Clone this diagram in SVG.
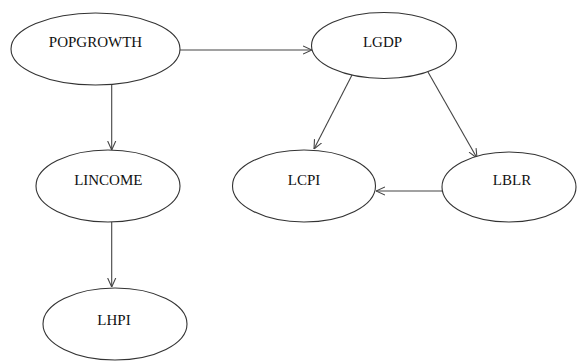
<svg xmlns="http://www.w3.org/2000/svg" width="577" height="363" viewBox="0 0 577 363">
<style>
.node ellipse{fill:#fff;stroke:#333;stroke-width:1.1}
.node text{font-family:"Liberation Serif","Times New Roman",serif;font-size:15px;fill:#111;text-anchor:middle}
.edge{stroke:#444;stroke-width:1.1;fill:none;marker-end:url(#arr)}
</style>
<defs>
<marker id="arr" viewBox="0 0 10 10" refX="10" refY="5" markerWidth="9" markerHeight="10" markerUnits="userSpaceOnUse" orient="auto">
<path d="M0,0.5 L10,5 L0,9.5" fill="none" stroke="#444" stroke-width="1.2"/>
</marker>
</defs>
<rect width="577" height="363" fill="#fff"/>
<g id="connectors">
<line class="edge" x1="180" y1="50" x2="312" y2="50"/>
<line class="edge" x1="111.7" y1="85" x2="111.7" y2="150"/>
<line class="edge" x1="111.7" y1="222" x2="111.7" y2="287"/>
<line class="edge" x1="352" y1="75" x2="314" y2="149"/>
<line class="edge" x1="428" y1="72" x2="477" y2="158"/>
<line class="edge" x1="442" y1="191" x2="376" y2="191"/>
</g>
<g id="POPGROWTH" class="node">
<ellipse cx="95.5" cy="49" rx="84.5" ry="36"/>
<text x="95.5" y="47">POPGROWTH</text>
</g>
<g id="LGDP" class="node">
<ellipse cx="384" cy="45.5" rx="72.5" ry="33"/>
<text x="382.5" y="47">LGDP</text>
</g>
<g id="LINCOME" class="node">
<ellipse cx="108" cy="186" rx="72" ry="36"/>
<text x="108.3" y="185">LINCOME</text>
</g>
<g id="LCPI" class="node">
<ellipse cx="304" cy="186" rx="71.5" ry="36"/>
<text x="304" y="185">LCPI</text>
</g>
<g id="LBLR" class="node">
<ellipse cx="509" cy="187" rx="67" ry="35"/>
<text x="512" y="185">LBLR</text>
</g>
<g id="LHPI" class="node">
<ellipse cx="115" cy="324" rx="72" ry="36"/>
<text x="114" y="325">LHPI</text>
</g>
</svg>
